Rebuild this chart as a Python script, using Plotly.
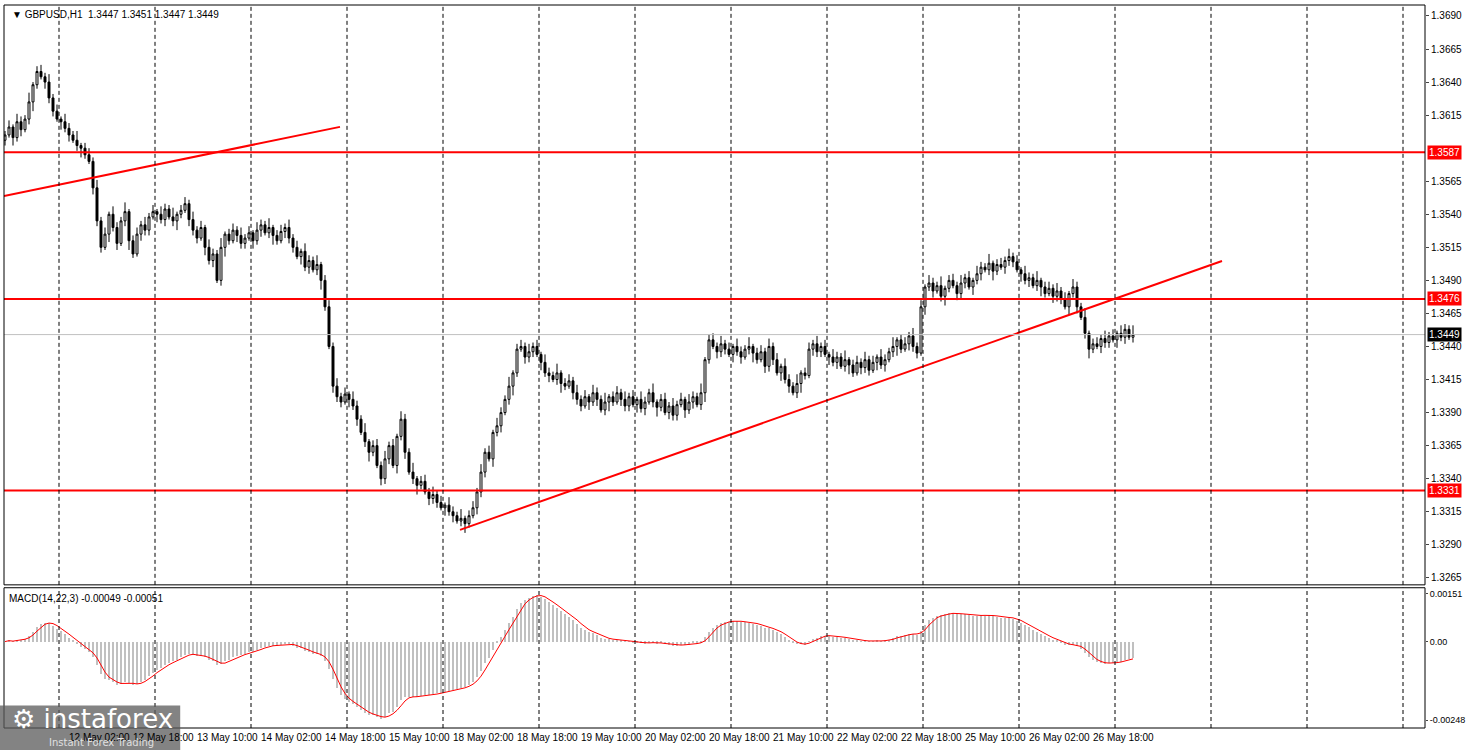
import plotly.graph_objects as go
import numpy as np
import datetime as dt

# closes in pips (1.xxxx)
closes_pips = [3600,3606,3598,3610,3604,
 3612,3625,3638,3648,3644,3640,
 3628,3618,3612,3610,
 3605,3600,3596,3592,3590,3585,3580,
 3560,3535,3515,3525,
 3540,3530,3518,3535,3542,3520,3510,3525,3532,3528,
 3538,3542,3540,3536,3544,3538,3535,3540,3543,3548,3536,
 3528,3522,3530,3515,3505,3510,3490,
 3515,3525,3520,3528,3524,3518,3522,3526,3520,3528,3532,3526,3530,3524,3520,3527,3530,3522,
 3515,3508,3512,3500,3505,3498,3502,3490,
 3470,3440,3410,
 3402,3398,3404,3400,3395,
 3385,3375,3368,3360,3365,3350,3340,
 3355,3365,3350,3372,3385,
 3360,3345,3340,3335,3338,
 3330,3325,3328,3322,3318,3320,
 3315,3312,3308,3310,3306,
 3312,3318,3330,3345,
 3360,3355,3375,3380,3390,
 3400,3410,3420,3438,3440,
 3432,3436,3440,3434,3428,3420,
 3418,3415,3420,3412,3410,3414,3405,
 3400,3395,3402,3398,3405,3400,3392,3398,3402,
 3398,3405,3400,3395,3402,3396,3400,3393,3398,3405,3398,3394,3400,3390,3395,3388,3396,3400,3392,3398,3402,3396,3405,
 3430,3445,
 3440,3436,3442,3438,3434,3440,3436,3432,3438,3440,3435,3430,3436,3425,3440,
 3430,3420,3425,3415,3410,
 3405,3412,3420,3418,
 3438,3442,3436,3440,3434,3432,
 3428,3432,3425,3430,3426,3420,3428,3424,3430,3422,3428,3432,3426,3430,3436,
 3440,3445,3438,3442,3448,3440,
 3435,3470,3485,
 3488,3482,3486,3478,3484,3490,3486,3480,3488,3492,3485,3490,
 3495,3500,3498,3503,3497,3502,3500,3505,3508,3504,
 3498,3495,3490,3492,3486,3490,3485,3480,3484,
 3478,3482,3476,3470,3480,3485,
 3470,3462,3450,3438,
 3442,3440,3446,3443,3448,3445,3450,3447,3453,3447,3449]
first_open_pips = 3596
wick_up_pips = [3, 5, 2, 6, 4, 3, 7, 2, 4, 5, 3, 6]
wick_dn_pips = [4, 2, 6, 3, 5, 2, 4, 7, 3, 2, 5, 4]

levels = [1.3587, 1.3476, 1.3331]
last_price = 1.3449
trend1 = ([-0.25, 83.75], [1.35539, 1.36061])
trend2 = ([113.75, 304.25], [1.33013, 1.35047])
price_ticks = [1.3690,1.3665,1.3640,1.3615,1.3565,1.3540,1.3515,1.3490,1.3465,1.3440,1.3415,1.3390,1.3365,1.3340,1.3315,1.3290,1.3265]

closes = np.array(closes_pips) / 10000 + 1
n = len(closes)
opens = np.concatenate([[first_open_pips / 10000 + 1], closes[:-1]])
wu = np.array([wick_up_pips[i % len(wick_up_pips)] for i in range(n)]) / 10000
wd = np.array([wick_dn_pips[i % len(wick_dn_pips)] for i in range(n)]) / 10000
highs = np.maximum(opens, closes) + wu
lows = np.minimum(opens, closes) - wd

t = dt.datetime(2020, 5, 11, 10)
dates = []
while len(dates) < n:
    if t.weekday() < 5:
        dates.append(t)
    t += dt.timedelta(hours=1)
idx = np.arange(n)

def ema(a, p):
    k = 2 / (p + 1); out = np.zeros_like(a); out[0] = a[0]
    for i in range(1, len(a)):
        out[i] = a[i] * k + out[i-1] * (1 - k)
    return out
macd = ema(closes, 14) - ema(closes, 22)
sig = np.convolve(macd, np.ones(3) / 3, mode='full')[:n]
sig[:2] = macd[:2]

fig = go.Figure()
fig.add_trace(go.Candlestick(x=idx, open=opens, high=highs, low=lows, close=closes,
    increasing=dict(line=dict(color='black', width=1), fillcolor='white'),
    decreasing=dict(line=dict(color='black', width=1), fillcolor='black'),
    whiskerwidth=0, xaxis='x', yaxis='y', showlegend=False, hoverinfo='skip'))
fig.add_trace(go.Bar(x=idx, y=macd, marker=dict(color='#c0c0c0', line=dict(width=0)), width=0.7,
    xaxis='x', yaxis='y2', showlegend=False))
fig.add_trace(go.Scatter(x=idx, y=sig, mode='lines', line=dict(color='red', width=1),
    xaxis='x', yaxis='y2', showlegend=False))
for tr in (trend1, trend2):
    fig.add_trace(go.Scatter(x=tr[0], y=tr[1], mode='lines', line=dict(color='red', width=2),
        xaxis='x', yaxis='y', showlegend=False))

XR = [-0.25, 355]
shapes = []
for lv in levels:
    shapes.append(dict(type='line', xref='x', yref='y', x0=XR[0], x1=XR[1], y0=lv, y1=lv, line=dict(color='red', width=2)))
shapes.append(dict(type='line', xref='x', yref='y', x0=XR[0], x1=XR[1], y0=last_price, y1=last_price, line=dict(color='#c0c0c0', width=1)))
day_starts = [i for i, d in enumerate(dates) if d.hour == 0]
last = dates[-1]; k = n
while k < XR[1]:
    last += dt.timedelta(hours=1)
    if last.weekday() < 5:
        if last.hour == 0:
            day_starts.append(k)
        k += 1
for ds in day_starts:
    for yr in ('y', 'y2'):
        shapes.append(dict(type='line', xref='x', yref=yr + ' domain', x0=ds - 0.5, x1=ds - 0.5, y0=0, y1=1,
            line=dict(color='black', width=1, dash='4px,3px')))
for yr in ('y', 'y2'):
    shapes.append(dict(type='rect', xref='paper', yref=yr + ' domain', x0=0, x1=1, y0=0, y1=1, line=dict(color='black', width=1)))
shapes.append(dict(type='rect', xref='paper', yref='paper', x0=-0.003, x1=0.124, y0=-0.031, y1=0.031,
    fillcolor='rgba(90,90,90,0.75)', line=dict(width=0), layer='above'))

F = 'Liberation Sans'
ann = []
ann.append(dict(xref='paper', yref='paper', x=0.004, y=0.997, xanchor='left', yanchor='top',
    text='▼ GBPUSD,H1  1.3447 1.3451 1.3447 1.3449', showarrow=False, font=dict(size=10, color='black', family=F)))
ann.append(dict(xref='paper', yref='y2 domain', x=0.002, y=0.98, xanchor='left', yanchor='top',
    text='MACD(14,22,3) -0.00049 -0.00051', showarrow=False, font=dict(size=10, color='black', family=F)))
for lv in levels:
    ann.append(dict(xref='paper', yref='y', x=1.0, y=lv, xanchor='left', yanchor='middle', text='%.4f' % lv,
        showarrow=False, bgcolor='red', font=dict(size=10, color='white', family=F), borderpad=1, xshift=2))
ann.append(dict(xref='paper', yref='y', x=1.0, y=last_price, xanchor='left', yanchor='middle', text='%.4f' % last_price,
    showarrow=False, bgcolor='black', font=dict(size=10, color='white', family=F), borderpad=1, xshift=2))
for i in range(0, n, 16):
    d = dates[i]
    txt = d.strftime('%-d %b %Y') if i == 0 else d.strftime('%-d %b %H:%M')
    ann.append(dict(xref='x', yref='paper', x=i - 0.5, y=0, xanchor='left', yanchor='top', yshift=-2,
        text=txt, showarrow=False, font=dict(size=10, color='black', family=F)))
ann.append(dict(xref='paper', yref='paper', x=0.004, y=0.012, xanchor='left', yanchor='middle',
    text='⚙ instaforex', showarrow=False, font=dict(size=26, color='white', family='DejaVu Sans')))
ann.append(dict(xref='paper', yref='paper', x=0.03, y=-0.02, xanchor='left', yanchor='middle',
    text='Instant Forex Trading', showarrow=False, font=dict(size=10, color='#e0e0e0', family='DejaVu Sans')))

fig.update_layout(
    width=1468, height=750, margin=dict(l=4, r=43, t=5, b=22, autoexpand=False),
    paper_bgcolor='white', plot_bgcolor='white', showlegend=False, bargap=0,
    shapes=shapes, annotations=ann,
    xaxis=dict(range=XR, showgrid=False, showticklabels=False, zeroline=False, automargin=False,
        rangeslider=dict(visible=False), fixedrange=True),
    yaxis=dict(domain=[0.198, 1], range=[1.32597, 1.36983], side='right', showgrid=False, zeroline=False, automargin=False,
        tickvals=price_ticks, ticktext=['%.4f' % v for v in price_ticks], ticks='outside', ticklen=3,
        tickfont=dict(size=10, color='black', family=F)),
    yaxis2=dict(domain=[0, 0.194], range=[-0.00273, 0.0017], side='right', showgrid=False, zeroline=False, automargin=False,
        tickvals=[0.00151, 0, -0.00248], ticktext=['0.00151', '0.00', '-0.00248'], ticks='outside', ticklen=2,
        tickfont=dict(size=9, color='black', family=F)),
)
html = fig.to_html(include_plotlyjs=True, full_html=True, config={'displayModeBar': False})
html = html.replace('<head>', '<head><style>html,body{margin:0;padding:0;overflow:hidden;}</style>', 1)
with open('out.html', 'w', encoding='utf-8') as f:
    f.write(html)
if False:
    fig.write_html('out.html')
